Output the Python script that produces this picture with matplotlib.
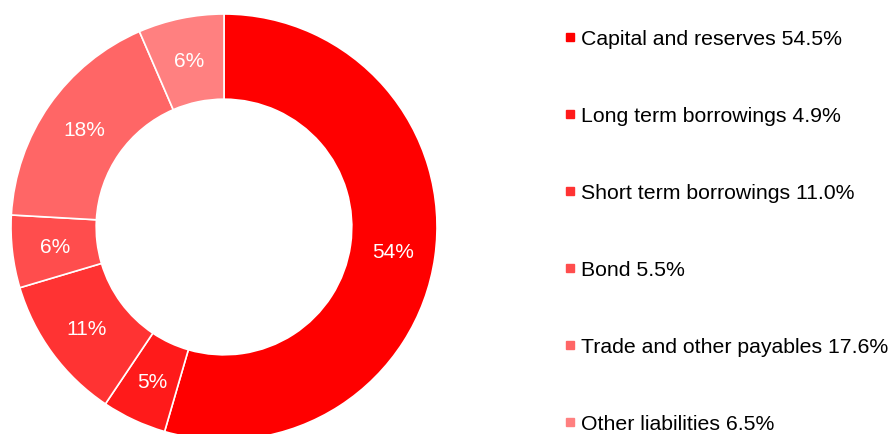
import matplotlib
matplotlib.use("Agg")
import matplotlib.pyplot as plt
from matplotlib.lines import Line2D
import numpy as np

plt.rcParams["font.family"] = ["Liberation Sans", "DejaVu Sans"]

# Dados
categories = ["Capital and reserves", "Long term borrowings", "Short term borrowings",
              "Bond", "Trade and other payables", "Other liabilities"]
shares = [54.5, 4.9, 11.0, 5.5, 17.6, 6.5]
slice_labels = ["54%", "5%", "11%", "6%", "18%", "6%"]
colors = ["#FF0000", "#FF1A1A", "#FF3333", "#FF4D4D", "#FF6666", "#FF8080"]

W, H = 889, 435
fig = plt.figure(figsize=(W / 100, H / 100), dpi=100)

# Rosca (donut)
cx, cy, r = 224, 207, 213
ax = fig.add_axes([(cx - r) / W, (cy - r) / H, 2 * r / W, 2 * r / H])
wedges, _ = ax.pie(shares, colors=colors, startangle=90, counterclock=False,
                   radius=1, wedgeprops=dict(width=0.4, edgecolor="white", linewidth=1.2))
ax.set_xlim(-1, 1)
ax.set_ylim(-1, 1)
ax.set_aspect("equal")
ax.axis("off")

# Rótulos no meio do anel
for w, lab in zip(wedges, slice_labels):
    ang = np.deg2rad((w.theta1 + w.theta2) / 2)
    ax.text(0.8 * np.cos(ang), 0.8 * np.sin(ang), lab, ha="center", va="center",
            color="white", fontsize=15)

# Legenda
handles = [Line2D([], [], marker="s", linestyle="", color=c, markersize=6) for c in colors]
labels = [f"{c} {v:.1f}%" for c, v in zip(categories, shares)]
fig.legend(handles, labels, loc="upper left", bbox_to_anchor=(565 / W, 1 - 30 / H),
           frameon=False, fontsize=15.3, labelspacing=2.73, handlelength=0.5,
           handletextpad=0.25, borderpad=0, borderaxespad=0)

fig.savefig("out.png", dpi=100)
